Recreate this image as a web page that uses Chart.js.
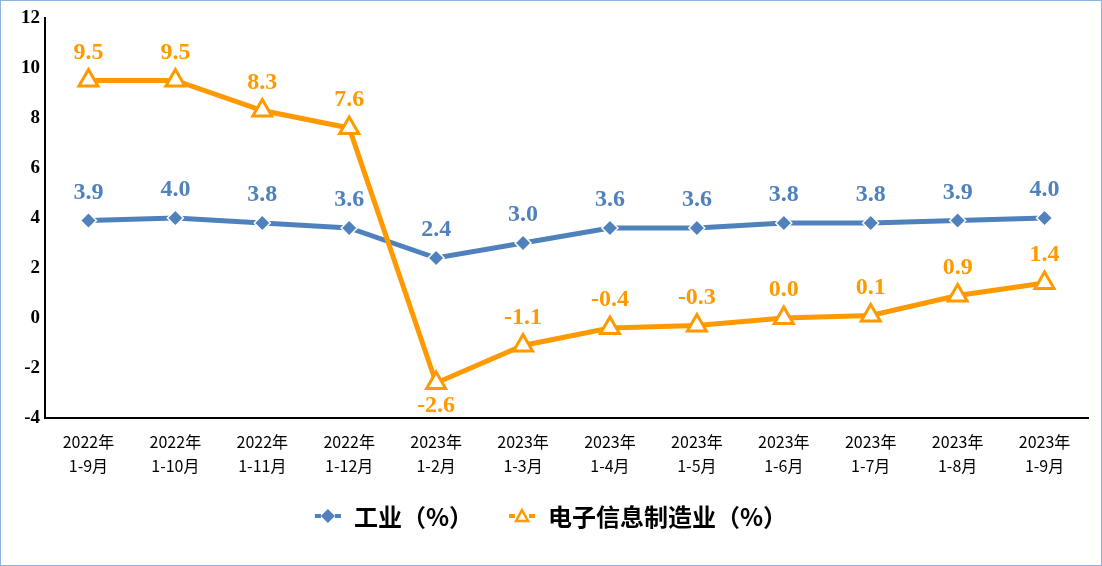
<!DOCTYPE html>
<html>
<head>
<meta charset="utf-8">
<script src="https://cdn.jsdelivr.net/npm/chart.js@4"></script>
<style>
  body { margin: 0; background: #fff; }
  #wrap { position: relative; width: 1102px; height: 566px; }
  #frame { position: absolute; left: 0; top: 0; width: 1100px; height: 564px; border: 1px solid #8db3e2; pointer-events: none; }
</style>
</head>
<body>
<div id="wrap">
  <canvas id="chart" width="1102" height="566"></canvas>
  <div id="frame"></div>
</div>
<script>
const months = [
    ['2022年', '1-9月'], ['2022年', '1-10月'], ['2022年', '1-11月'], ['2022年', '1-12月'],
    ['2023年', '1-2月'], ['2023年', '1-3月'], ['2023年', '1-4月'], ['2023年', '1-5月'],
    ['2023年', '1-6月'], ['2023年', '1-7月'], ['2023年', '1-8月'], ['2023年', '1-9月']
];
const industry = [3.9, 4.0, 3.8, 3.6, 2.4, 3.0, 3.6, 3.6, 3.8, 3.8, 3.9, 4.0];
const electronics = [9.5, 9.5, 8.3, 7.6, -2.6, -1.1, -0.4, -0.3, 0.0, 0.1, 0.9, 1.4];
const seriesNames = ['工业（%）', '电子信息制造业（%）'];
const yTicks = [-4, -2, 0, 2, 4, 6, 8, 10, 12];

const BLUE = '#4f81bd';
const ORANGE = '#ff9900';

// value labels above each point (the big drop is labelled below)
const valueLabels = {
    id: 'valueLabels',
    afterDatasetsDraw(chart) {
        const ctx = chart.ctx;
        ctx.save();
        ctx.font = 'bold 24px "Liberation Serif", "Times New Roman", serif';
        ctx.textAlign = 'center';
        ctx.textBaseline = 'middle';
        chart.data.datasets.forEach((ds, i) => {
            const meta = chart.getDatasetMeta(i);
            ctx.fillStyle = ds.borderColor;
            meta.data.forEach((pt, j) => {
                const v = ds.data[j];
                const below = i === 1 && v < -2;
                const y = below ? pt.y + 23 : pt.y - 28;
                ctx.fillText(v.toFixed(1), pt.x, y);
            });
        });
        ctx.restore();
    }
};

// legend with a short line and marker, like the office chart
const lineLegend = {
    id: 'lineLegend',
    afterDraw(chart) {
        const ctx = chart.ctx;
        ctx.save();
        ctx.font = 'bold 24px "Noto Sans CJK SC", sans-serif';
        ctx.textBaseline = 'middle';
        const y = 516;
        const sym = 26, gapSym = 13, gapItem = 36;
        const widths = seriesNames.map(n => ctx.measureText(n).width);
        const total = widths.reduce((a, b) => a + b, 0) + 2 * (sym + gapSym) + gapItem;
        let x = (1102 - total) / 2;
        chart.data.datasets.forEach((ds, i) => {
            ctx.strokeStyle = ds.borderColor;
            ctx.lineWidth = 4;
            ctx.beginPath();
            ctx.moveTo(x, y); ctx.lineTo(x + 6, y);
            ctx.moveTo(x + sym - 6, y); ctx.lineTo(x + sym, y);
            ctx.stroke();
            const cx = x + sym / 2;
            if (i === 0) {
                ctx.fillStyle = ds.borderColor;
                ctx.beginPath();
                ctx.moveTo(cx, y - 7); ctx.lineTo(cx + 7, y); ctx.lineTo(cx, y + 7); ctx.lineTo(cx - 7, y);
                ctx.closePath();
                ctx.fill();
            } else {
                ctx.fillStyle = '#fff';
                ctx.lineWidth = 2.5;
                ctx.beginPath();
                ctx.moveTo(cx, y - 6); ctx.lineTo(cx + 6, y + 5); ctx.lineTo(cx - 6, y + 5);
                ctx.closePath();
                ctx.fill();
                ctx.stroke();
            }
            x += sym + gapSym;
            ctx.fillStyle = '#000';
            ctx.fillText(seriesNames[i], x, y + 1);
            x += widths[i] + gapItem;
        });
        ctx.restore();
    }
};

new Chart(document.getElementById('chart').getContext('2d'), {
    type: 'line',
    data: {
        labels: months,
        datasets: [{
            label: seriesNames[0],
            data: industry,
            borderColor: BLUE,
            backgroundColor: BLUE,
            borderWidth: 5,
            pointStyle: 'rectRot',
            pointRadius: 8,
            pointBackgroundColor: BLUE,
            pointBorderColor: '#fff',
            pointBorderWidth: 1.5,
            tension: 0,
            order: 1
        }, {
            label: seriesNames[1],
            data: electronics,
            borderColor: ORANGE,
            backgroundColor: ORANGE,
            borderWidth: 5,
            pointStyle: 'triangle',
            pointRadius: 11,
            pointBackgroundColor: '#fff',
            pointBorderColor: ORANGE,
            pointBorderWidth: 3,
            tension: 0,
            order: 0
        }]
    },
    options: {
        responsive: false,
        animation: false,
        layout: { padding: { top: 18, right: 4, left: 0, bottom: 0 } },
        plugins: {
            legend: { display: false },
            tooltip: { enabled: false }
        },
        scales: {
            x: {
                offset: true,
                grid: { display: false, drawTicks: false },
                border: { display: true, color: '#000', width: 2 },
                ticks: {
                    color: '#000',
                    padding: 12,
                    maxRotation: 0,
                    autoSkip: false,
                    font: { family: '"Noto Sans CJK SC", sans-serif', size: 16, lineHeight: 1.5 }
                },
                afterFit(scale) { scale.height = 148; }
            },
            y: {
                min: -4,
                max: 12,
                afterBuildTicks(scale) { scale.ticks = yTicks.map(v => ({ value: v })); },
                grid: { display: false, drawTicks: false },
                border: { display: true, color: '#000', width: 2 },
                ticks: {
                    color: '#000',
                    padding: 5,
                    font: { family: '"Liberation Serif", "Times New Roman", serif', size: 19, weight: 'bold' }
                },
                afterFit(scale) { scale.width = 45; }
            }
        }
    },
    plugins: [valueLabels, lineLegend]
});
</script>
</body>
</html>
